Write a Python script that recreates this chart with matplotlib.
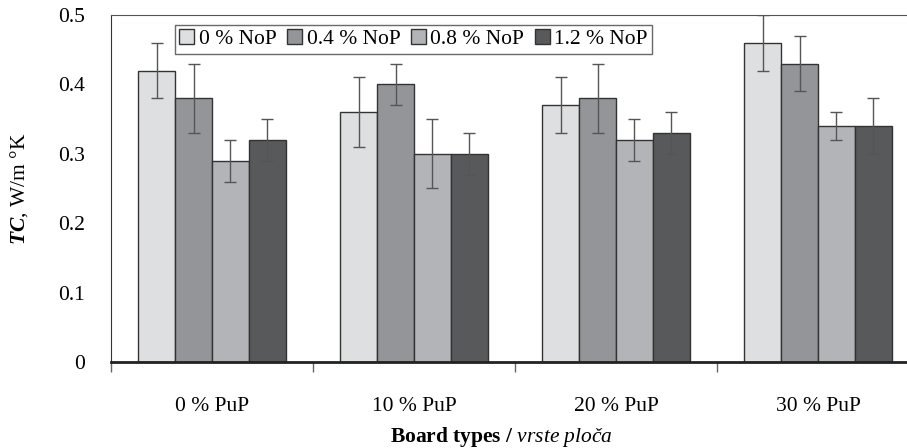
import numpy as np
import matplotlib.pyplot as plt

plt.rcParams['font.family'] = 'Liberation Serif'
plt.rcParams['mathtext.fontset'] = 'custom'
plt.rcParams['mathtext.rm'] = 'Liberation Serif'
plt.rcParams['mathtext.it'] = 'Liberation Serif:italic'
plt.rcParams['mathtext.bf'] = 'Liberation Serif:bold'
plt.rcParams['mathtext.bfit'] = 'Liberation Serif:bold:italic'

# data
boards = ["0 % PuP", "10 % PuP", "20 % PuP", "30 % PuP"]
series = ["0 % NoP", "0.4 % NoP", "0.8 % NoP", "1.2 % NoP"]
tc_0 = [0.42, 0.36, 0.37, 0.46]
tc_04 = [0.38, 0.40, 0.38, 0.43]
tc_08 = [0.29, 0.30, 0.32, 0.34]
tc_12 = [0.32, 0.30, 0.33, 0.34]
err_0 = [0.04, 0.05, 0.04, 0.04]
err_04 = [0.05, 0.03, 0.05, 0.04]
err_08 = [0.03, 0.05, 0.03, 0.02]
err_12 = [0.03, 0.03, 0.03, 0.04]

values = [tc_0, tc_04, tc_08, tc_12]
errors = [err_0, err_04, err_08, err_12]
colors = ["#dedfe1", "#939598", "#b3b4b8", "#58595b"]

fig = plt.figure(figsize=(9.07, 4.48), dpi=100)
# axes runs a bit past the right edge, like the original
ax = fig.add_axes([111 / 907, 86 / 448, 808 / 907, 347 / 448])

x = np.arange(len(boards))
w = 0.183
for i in range(4):
    ax.bar(x + (i - 1.5) * w, values[i], w, color=colors[i],
           edgecolor="#333333", linewidth=1, label=series[i],
           yerr=errors[i], capsize=4.5,
           error_kw=dict(ecolor="#555555", elinewidth=1, capthick=1))

ax.set_xlim(-0.5, len(boards) - 0.5)
ax.set_ylim(0, 0.5)
ax.set_yticks([0, 0.1, 0.2, 0.3, 0.4, 0.5])
ax.set_yticklabels(["0", "0.1", "0.2", "0.3", "0.4", "0.5"], fontsize=15.5)
ax.tick_params(axis="y", length=0, pad=19)

ax.set_xticks(x)
ax.set_xticklabels(boards, fontsize=15.5)
ax.set_xticks(np.arange(len(boards) + 1) - 0.5, minor=True)
ax.tick_params(axis="x", which="major", length=0, pad=25)
ax.tick_params(axis="x", which="minor", length=7, width=1, color="#666666")

ax.spines["right"].set_visible(False)
ax.spines["top"].set_color("#555555")
ax.spines["left"].set_color("#333333")
ax.spines["bottom"].set_color("#222222")
ax.spines["bottom"].set_linewidth(2)

ax.set_ylabel(r"$\mathbfit{TC}$, W/m °K", fontsize=15.5, labelpad=20)

fig.text(501 / 907, 11 / 448,
         r"$\mathbf{Board\ types\ /}$ $\mathit{vrste\ ploča}$",
         ha="center", va="center", fontsize=15.5)

leg = ax.legend(loc="upper left", bbox_to_anchor=(64 / 808, 1 - 10 / 347),
                ncol=4, fontsize=15.5, frameon=True, fancybox=False,
                handlelength=0.7, handleheight=0.7, handletextpad=0.2,
                columnspacing=0.5, borderpad=0.2, borderaxespad=0)
leg.get_frame().set_edgecolor("#444444")
leg.get_frame().set_linewidth(1)

fig.savefig("out.png", dpi=100)
